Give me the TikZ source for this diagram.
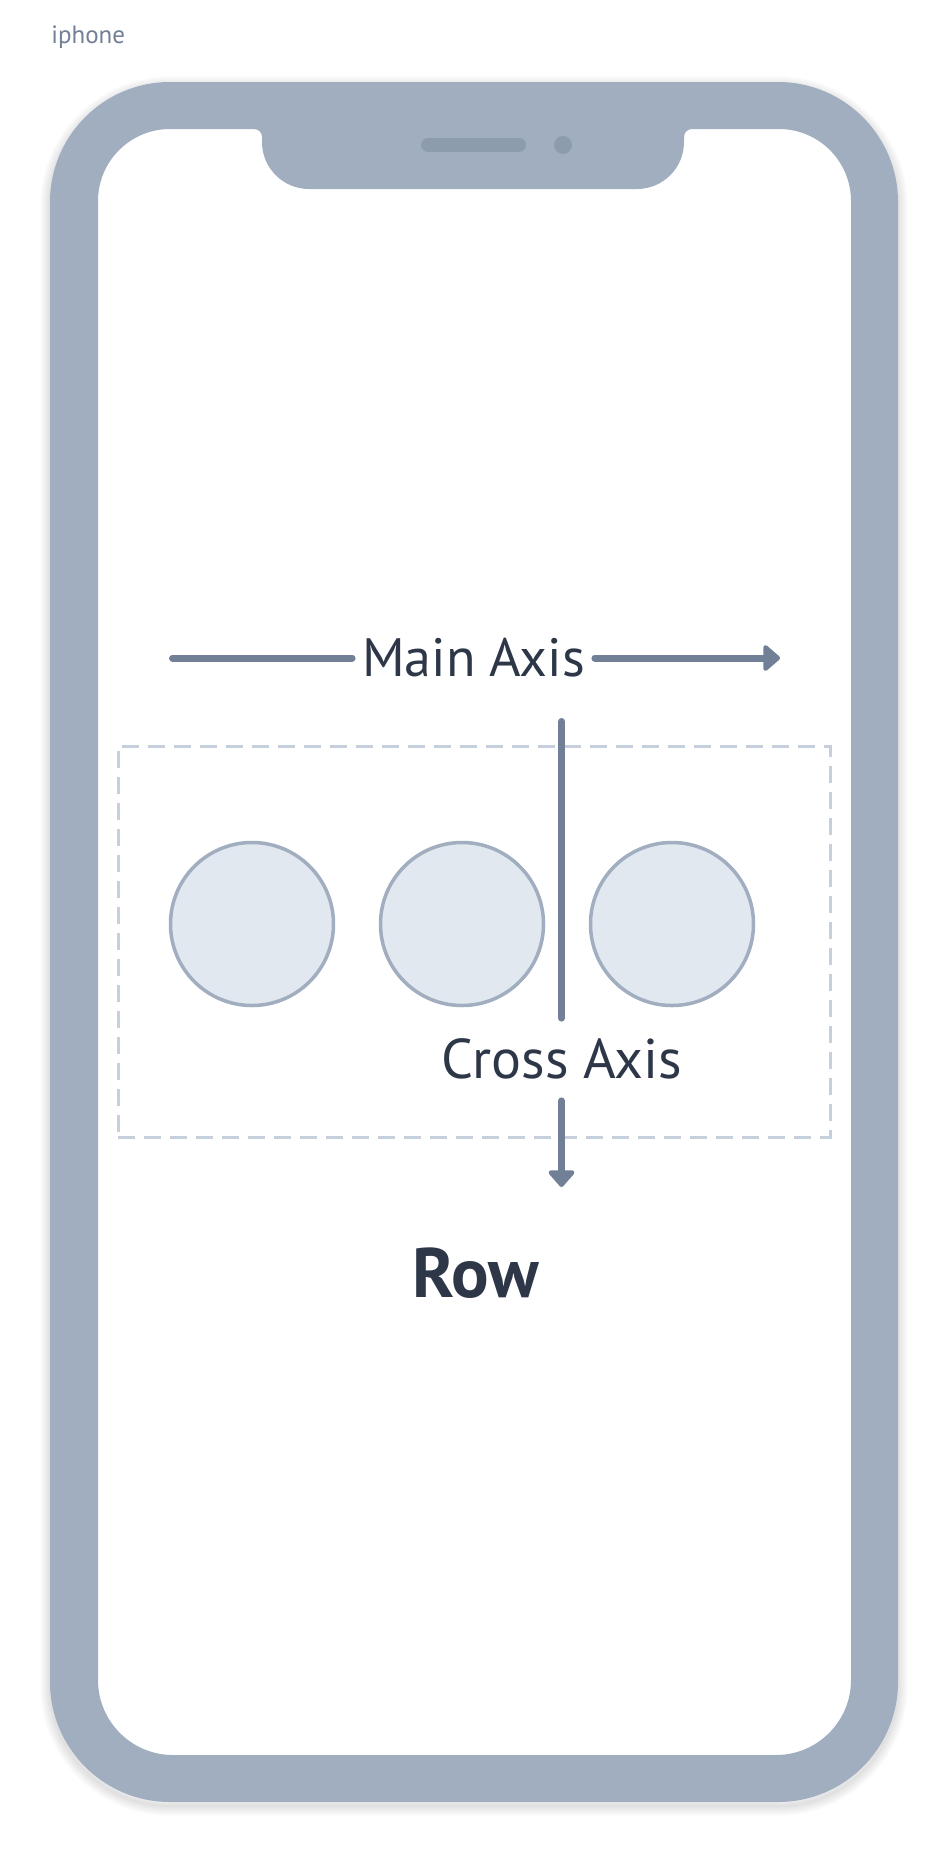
\documentclass[tikz,border=0pt]{standalone}
\usepackage{fontspec}
\setmainfont{PT Sans}
\usetikzlibrary{arrows.meta}

\definecolor{phonegray}{HTML}{A0AEC0}
\definecolor{phonedark}{HTML}{8D9CAC}
\definecolor{axisgray}{HTML}{718096}
\definecolor{inkdark}{HTML}{2D3748}
\definecolor{dashgray}{HTML}{C5D0DC}
\definecolor{itemfill}{HTML}{E2E8F0}

\begin{document}
\begin{tikzpicture}[x=0.5pt,y=-0.5pt,
	axisline/.style={axisgray, line width=3.5pt, line cap=round},
	axistip/.style={-{Triangle[length=9pt, width=15pt, round]}},
	axislabel/.style={text=inkdark, font=\fontsize{28}{32}\selectfont},
	item/.style={circle, draw=phonegray, fill=itemfill, line width=1.75pt, minimum size=81.5pt, inner sep=0pt}]
	\useasboundingbox[fill=white] (0,0) rectangle (948,1852);

	% soft shadow of the body
	\foreach \w in {2,4,...,20}
		\draw[black, opacity=0.012, line width=\w*0.5pt, rounded corners=60pt] (50,86) rectangle (898,1806);

	% body with the notch cut out
	\fill[phonegray, even odd rule] [rounded corners=60pt] (50,82) rectangle (898,1802)
		[sharp corners] (170,129) -- (254,129) arc[start angle=270, end angle=360, radius=8]
		-- (262,142) arc[start angle=180, end angle=90, radius=47]
		-- (637,189) arc[start angle=90, end angle=0, radius=47]
		-- (684,137) arc[start angle=180, end angle=270, radius=8]
		-- (779,129) arc[start angle=270, end angle=360, radius=72]
		-- (851,1680) arc[start angle=0, end angle=90, radius=75]
		-- (173,1755) arc[start angle=90, end angle=180, radius=75]
		-- (98,201) arc[start angle=180, end angle=270, radius=72] -- cycle;
	\draw[phonedark, line width=7pt, line cap=round] (428,145) -- (519,145);
	\fill[phonedark] (563,145) circle[radius=9];

	\node[anchor=base west, text=axisgray, font=\fontsize{12.5}{15}\selectfont, inner sep=0pt] (phonelabel) at (51,43) {iphone};

	\begin{scope}[every node/.style={inner sep=0pt}]
		\node[draw=dashgray, line width=1.5pt, dash pattern=on 8.5pt off 4.5pt, minimum width=356pt, minimum height=195.5pt] (rowbox) at (474,941.5) {};
		\foreach \cx [count=\i] in {252,462,672}
			\node[item] (item\i) at (\cx,924) {};
		\node[axislabel, font=\fontsize{27}{31}\selectfont, anchor=base, inner xsep=5.75pt] (mainlabel) at (473.5,676) {\makebox[109.5pt]{Main Axis}};
			\coordinate (mainstart) at (172.5,658);
			\coordinate (mainend) at (780,658);
		\node[axislabel, anchor=base, text height=18.5pt, text depth=0pt, inner ysep=11.25pt] (crosslabel) at (562,1078) {Cross Axis};
			\coordinate (crossstart) at (561.5,721.5);
			\coordinate (crossend) at (561.5,1187);
		\node[anchor=base, text=inkdark, font=\bfseries\fontsize{35}{40}\selectfont] (rowlabel) at (476,1297) {Row};
	\end{scope}

	\draw[axisline] (mainstart) -- (mainstart -| mainlabel.west);
	\draw[axisline, axistip] (mainstart -| mainlabel.east) -- (mainend);
	\draw[axisline] (crossstart) -- (crossstart |- crosslabel.north);
	\draw[axisline, axistip] (crossstart |- crosslabel.south) -- (crossend);
\end{tikzpicture}
\end{document}
